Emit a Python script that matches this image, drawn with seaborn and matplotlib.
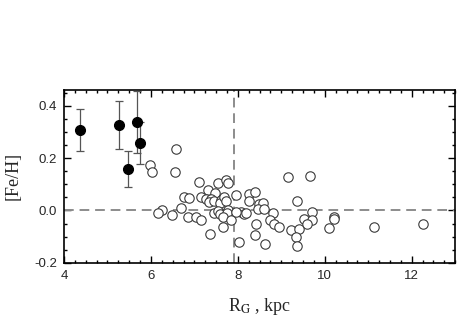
import matplotlib
matplotlib.use("Agg")
import numpy as np
import pandas as pd
import matplotlib.pyplot as plt
import seaborn as sns
from matplotlib.ticker import MultipleLocator

# Objects with errors (filled points)
rg_filled = [4.37, 5.27, 5.48, 5.67, 5.74]
feh_filled = [0.308, 0.327, 0.158, 0.337, 0.259]
feh_err = [0.080, 0.091, 0.070, 0.118, 0.080]

# Field stars (open circles)
rg_open = [6.58, 5.97, 6.03, 6.55, 7.11, 7.54, 7.73, 7.77, 7.32, 7.48,
           7.96, 8.25, 8.39, 8.26, 8.48, 8.58, 8.46, 8.61, 6.76, 6.87,
           7.15, 7.27, 7.39, 7.33, 7.46, 7.61, 7.60, 7.69, 7.73, 6.70,
           6.25, 6.17, 6.48, 6.85, 7.04, 7.16, 7.46, 7.54, 7.59, 7.77,
           7.75, 7.65, 7.65, 7.85, 7.37, 8.02, 8.07, 8.13, 8.19, 7.95,
           8.42, 8.39, 8.63, 8.80, 8.75, 8.83, 8.94, 9.16, 9.67, 9.36,
           9.71, 9.51, 9.71, 9.60, 9.23, 9.41, 9.34, 9.35, 10.22, 10.22,
           10.10, 11.13, 12.26]
feh_open = [0.235, 0.172, 0.145, 0.147, 0.109, 0.103, 0.118, 0.103, 0.078, 0.068,
            0.060, 0.063, 0.070, 0.036, 0.026, 0.028, 0.006, 0.006, 0.050, 0.048,
            0.051, 0.045, 0.042, 0.031, 0.036, 0.040, 0.030, 0.050, 0.036, 0.009,
            0.000, -0.011, -0.019, -0.023, -0.025, -0.038, -0.008, -0.003, -0.014, 0.003,
            -0.010, -0.026, -0.063, -0.038, -0.088, -0.120, -0.006, -0.013, -0.010, -0.004,
            -0.050, -0.095, -0.128, -0.011, -0.038, -0.052, -0.062, 0.126, 0.131, 0.038,
            -0.006, -0.034, -0.036, -0.053, -0.074, -0.072, -0.102, -0.135, -0.026, -0.034,
            -0.068, -0.062, -0.051]

rg_sun = 7.92

sns.set_theme(style="ticks")
plt.rcParams['font.family'] = ['Liberation Sans', 'DejaVu Sans']
plt.rcParams['mathtext.fontset'] = 'stix'

df_open = pd.DataFrame({'rg': rg_open, 'feh': feh_open})

fig = plt.figure(figsize=(4.64, 3.27), dpi=100)
ax = fig.add_axes([0.138, 0.196, 0.843, 0.529])

# linhas de referência
ax.axhline(0.0, color='#8c8c8c', lw=1.4, ls=(0, (5, 3)), zorder=1)
ax.axvline(rg_sun, color='#8c8c8c', lw=1.4, ls=(0, (5, 3)), zorder=1)

sns.scatterplot(data=df_open, x='rg', y='feh', ax=ax, s=46,
                facecolor='white', edgecolor='#3a3a3a', linewidth=0.8, zorder=3)

ax.errorbar(rg_filled, feh_filled, yerr=feh_err, fmt='o', color='black',
            ms=7, ecolor='#555555', elinewidth=0.9, capsize=3, capthick=0.9,
            zorder=4)

ax.set_xlim(4, 13)
ax.set_ylim(-0.2, 0.46)
ax.xaxis.set_major_locator(MultipleLocator(2))
ax.xaxis.set_minor_locator(MultipleLocator(0.25))
ax.yaxis.set_major_locator(MultipleLocator(0.2))
ax.yaxis.set_minor_locator(MultipleLocator(0.05))
ax.yaxis.set_major_formatter(plt.FuncFormatter(lambda v, p: f"{v:.1f}"))

ax.tick_params(which='both', direction='in', top=True, right=True,
               color='black', width=1.0, labelsize=9.5)
ax.tick_params(which='major', length=5, pad=5)
ax.tick_params(which='minor', length=2.5)
for sp in ax.spines.values():
    sp.set_linewidth(1.2)
    sp.set_color('black')

ax.set_xlabel(r'R$_\mathrm{G}$ , kpc', family='Liberation Serif', fontsize=13, labelpad=10)
ax.set_ylabel('[Fe/H]', family='Liberation Serif', fontsize=13, labelpad=9)

fig.savefig('out.png', dpi=100)
plt.close(fig)
